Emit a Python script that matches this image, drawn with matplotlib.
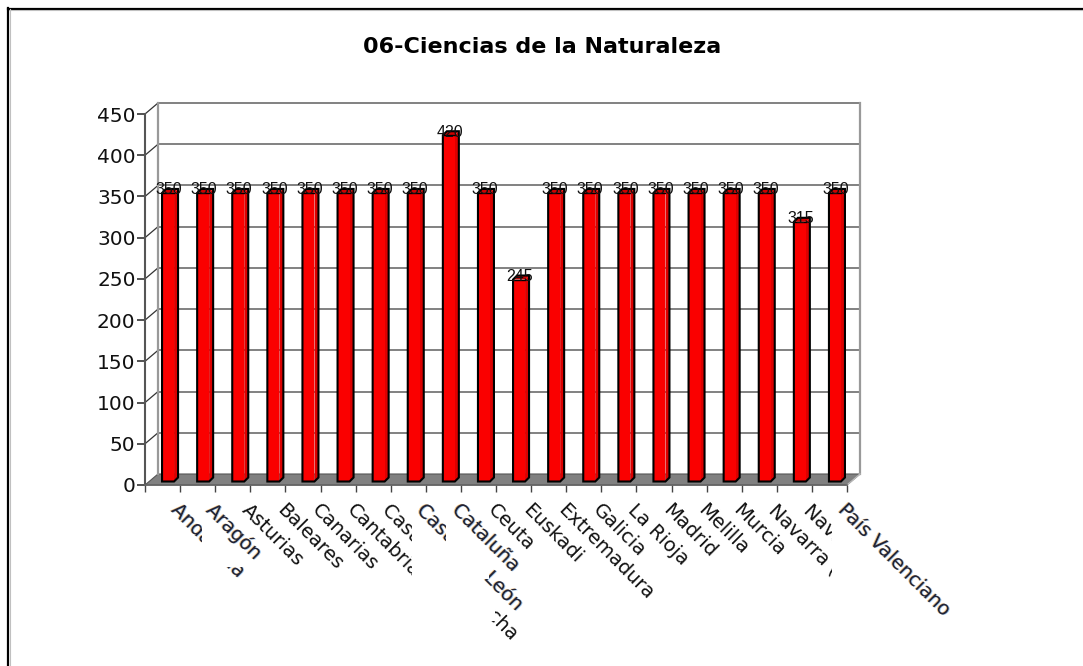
import matplotlib
matplotlib.use('Agg')
import matplotlib.pyplot as plt
import matplotlib.patheffects as pe
from matplotlib.lines import Line2D
from matplotlib.patches import Rectangle, Polygon

categories = ['Andalucía', 'Aragón', 'Asturias', 'Baleares', 'Canarias', 'Cantabria',
              'Castilla-La Mancha', 'Castilla y León', 'Cataluña', 'Ceuta', 'Euskadi',
              'Extremadura', 'Galicia', 'La Rioja', 'Madrid', 'Melilla', 'Murcia',
              'Navarra (Castellano)', 'Navarra (Euskera)', 'País Valenciano']
values = [350, 350, 350, 350, 350, 350, 350, 350, 420, 350, 245,
          350, 350, 350, 350, 350, 350, 350, 315, 350]
y_ticks = [0, 50, 100, 150, 200, 250, 300, 350, 400, 450]
title = '06-Ciencias de la Naturaleza'

# labels that look like pasted images with a colour fringe
fringe_labels = ['Andalucía', 'Aragón', 'Castilla y León', 'Cataluña', 'País Valenciano']

W, H = 1083, 666
fig = plt.figure(figsize=(W / 100, H / 100), dpi=100, facecolor='white')

# main axes covers the front of the 3d box
left, right, top, bottom = 145, 847, 114, 485
ax = fig.add_axes([left / W, 1 - bottom / H, (right - left) / W, (bottom - top) / H])
ax.set_xlim(0, len(categories))
ax.set_ylim(0, 450)
ax.patch.set_visible(False)
for name in ['top', 'right', 'bottom', 'left']:
    ax.spines[name].set_visible(False)

# one pixel in data units
px_x = len(categories) / (right - left)
px_y = 450 / (bottom - top)
dx, dy = 13 * px_x, 11 * px_y
GREY = '#808080'
n = len(categories)

# floor and back wall
ax.add_patch(Polygon([(0, 0), (n, 0), (n + dx, dy), (dx, dy)], closed=True,
                     facecolor=GREY, edgecolor='#555555', lw=0.8, zorder=1, clip_on=False))
for t in y_ticks[1:]:
    ax.plot([dx, n + dx], [t + dy, t + dy], color='#777777', lw=1.3, zorder=1, clip_on=False)
    ax.plot([0, dx], [t, t + dy], color='#333333', lw=0.9, zorder=1, clip_on=False)
ax.plot([dx, dx], [dy, 450 + dy], color='#999999', lw=1.6, zorder=1, clip_on=False)
ax.plot([n + dx, n + dx], [dy, 450 + dy], color='#999999', lw=1.6, zorder=1, clip_on=False)
ax.plot([n, n + dx], [0, dy], color='#bbbbbb', lw=1.0, zorder=1, clip_on=False)
ax.plot([0, 0], [0, 450], color='#555555', lw=1.5, zorder=3, clip_on=False)
ax.plot([0, n], [0, 0], color='#666666', lw=1.2, zorder=3, clip_on=False)

# ticks
ax.set_yticks(y_ticks)
ax.set_xticks(range(n + 1))
ax.set_xticklabels([])
ax.tick_params(axis='y', length=5.8, width=1.3, color='#444444', labelsize=14.5, pad=1,
               labelcolor='#111111')
ax.tick_params(axis='x', length=5, width=1.0, color='#444444', direction='out')

# bars, a front face with a side and a top
bar_w = 12 * px_x
side_x, side_y = 4 * px_x, 4 * px_y
off_x, off_y = 5.5 * px_x, 3.5 * px_y
for i, v in enumerate(values):
    x0 = i + 0.5 + off_x - bar_w / 2
    x1 = x0 + bar_w
    y0 = off_y
    y1 = v + off_y
    ax.add_patch(Polygon([(x1, y0), (x1 + side_x, y0 + side_y), (x1 + side_x, y1 + side_y), (x1, y1)],
                         closed=True, facecolor='#dc0000', edgecolor='none', zorder=4, clip_on=False))
    ax.add_patch(Polygon([(x0, y1), (x1, y1), (x1 + side_x, y1 + side_y), (x0 + side_x, y1 + side_y)],
                         closed=True, facecolor='#d00000', edgecolor='none', zorder=4, clip_on=False))
    ax.bar(x0, v, width=bar_w, bottom=y0, align='edge', color='#fa0000', edgecolor='none',
           zorder=5, clip_on=False)
    # outline round the whole bar
    ax.add_patch(Polygon([(x0, y0), (x1, y0), (x1 + side_x, y0 + side_y), (x1 + side_x, y1 + side_y),
                          (x0 + side_x, y1 + side_y), (x0, y1)],
                         closed=True, fill=False, edgecolor='black', lw=1.5, zorder=5.5, clip_on=False))
    ax.plot([x0, x1], [y1, y1], color='black', lw=1.0, zorder=5.5, clip_on=False)
    ax.text(i + 0.5 + off_x + 1 * px_x, y1 + 3.2 * px_y, str(v), ha='center', va='center',
            fontsize=11.5, family='Liberation Sans', color='#111111', zorder=6, clip_on=False)


def px_rect(x0, y0, x1, y1, z):
    """ White mask given in picture pixels """
    fig.add_artist(Rectangle((x0 / W, 1 - y1 / H), (x1 - x0) / W, (y1 - y0) / H,
                             transform=fig.transFigure, facecolor='white',
                             edgecolor='none', zorder=z))


# parts of the labels are cut away in the original, masks go between the labels
masks = {
    'Andalucía': [(202, 520, 250, 567)],
    'Castilla-La Mancha': [(412, 500, 495, 621)],
    'Castilla y León': [(446, 500, 489, 579)],
    'Navarra (Euskera)': [(832, 500, 1000, 666)],
}
tick_px = (right - left) / n
for i, name in enumerate(categories):
    z = 10 + 2 * i
    px = left + (i + 0.5) * tick_px + 12
    t = fig.text(px / W, 1 - 507 / H, name, rotation=-45, rotation_mode='anchor',
                 ha='left', va='center', fontsize=14, color='#111111',
                 family='DejaVu Sans', zorder=z)
    if name in fringe_labels:
        t.set_color('#222236')
        t.set_path_effects([
            pe.SimplePatchShadow(offset=(-0.7, 0.2), shadow_rgbFace='#f0a030', alpha=0.6),
            pe.SimplePatchShadow(offset=(0.7, -0.2), shadow_rgbFace='#50a0e8', alpha=0.6),
            pe.Normal(),
        ])
    for m in masks.get(name, []):
        px_rect(*m, z + 1)

fig.text(542 / W, 1 - 47 / H, title, ha='center', va='center', fontsize=16,
         fontweight='bold', family='DejaVu Sans', color='black')

# frame of the picture, only top and left are visible
fig.add_artist(Line2D([8 / W, 1], [1 - 8.5 / H, 1 - 8.5 / H], color='black', lw=1.6))
fig.add_artist(Line2D([8 / W, 1], [1 - 10 / H, 1 - 10 / H], color='#c0c0c0', lw=0.8))
fig.add_artist(Line2D([8 / W, 8 / W], [0, 1 - 8 / H], color='black', lw=1.6))
fig.add_artist(Line2D([9.5 / W, 9.5 / W], [0, 1 - 9 / H], color='#c0c0c0', lw=0.8))

fig.savefig('out.png', dpi=100)
